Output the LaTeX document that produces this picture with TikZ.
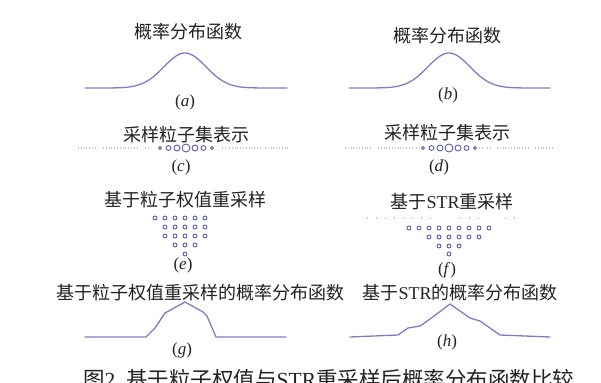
\documentclass[tikz,border=0pt]{standalone}
\usepackage{fontspec}
\setmainfont{Liberation Serif}
\newfontfamily\cjk{Noto Sans CJK SC}
\definecolor{curve}{HTML}{7A7EC8}
\definecolor{ptc}{HTML}{5B5FB5}
\definecolor{txt}{HTML}{222222}
\definecolor{dotg}{HTML}{C4C4CC}
\begin{document}
\begin{tikzpicture}[x=1pt,y=-1pt,
  title/.style={font=\fontsize{18}{20}\selectfont, text=txt, inner sep=0},
  sublabel/.style={font=\fontsize{17}{19}\selectfont, text=txt, inner sep=0},
  capt/.style={font=\fontsize{21.5}{24}\selectfont, text=txt, inner sep=0},
  pdf/.style={draw=curve, line width=1.3pt, line join=round, line cap=round},
  ptcl/.style={draw=ptc, line width=0.9pt},
  dots/.style={draw=dotg, line width=1.2pt, dash pattern=on 1pt off 1.8pt},
  sparse/.style={draw=dotg, line width=1.2pt, dash pattern=on 1.2pt off 7.8pt}]
\useasboundingbox[fill=white] (0,0) rectangle (601,382);

% (a)
\node[title] (ta) at (188,32) {\cjk 概率分布函数};
\draw[pdf] plot[domain=85:287,samples=80,smooth] (\x,{88-35*exp(-((\x-185)/21)^2/2)});
\node[sublabel] (la) at (185,102) {(\textit{a})};

% (b)
\node[title] (tb) at (447,36) {\cjk 概率分布函数};
\draw[pdf] plot[domain=349:550,samples=80,smooth] (\x,{88-35*exp(-((\x-449)/21)^2/2)});
\node[sublabel] (lb) at (448,95) {(\textit{b})};

% (c)
\node[title] (tc) at (186,135) {\cjk 采样粒子集表示};
\foreach \a/\b in {78/97,103/138,145/149,222/226,229/260,265/290}
  \draw[dots] (\a,148) -- (\b,148);
\foreach \dx/\r in {-26/1.6,-17.5/2.4,-9/3.0,0/4.0,9/3.0,17.5/2.4,26/1.6}
  \draw[ptcl] (186+\dx,148) circle (\r);
\node[sublabel] (lc) at (181,167) {(\textit{c})};

% (d)
\node[title] (td) at (447,133) {\cjk 采样粒子集表示};
\foreach \a/\b in {345/373,378/413,416/419,479/482,487/490,497/530,535/553}
  \draw[dots] (\a,148) -- (\b,148);
\foreach \dx/\r in {-26/1.6,-17.5/2.4,-9/3.0,0/4.0,9/3.0,17.5/2.4,26/1.6}
  \draw[ptcl] (449+\dx,148) circle (\r);
\node[sublabel] (ld) at (439,167) {(\textit{d})};

% (e)
\node[title] (te) at (185,200) {\cjk 基于粒子权值重采样};
\foreach \x in {155,165,...,205} \draw[ptcl] (\x,218) circle (2);
\foreach \x in {165,175,...,205} \draw[ptcl] (\x,227) circle (2);
\foreach \x in {165,175,...,205} \draw[ptcl] (\x,236) circle (2);
\foreach \x in {175,185,195} \draw[ptcl] (\x,245) circle (2);
\draw[ptcl] (185,254) circle (2);
\node[sublabel] (le) at (183,265) {(\textit{e})};

% (f)
\node[title] (tf) at (452,202) {{\cjk 基于}STR{\cjk 重采样}};
\draw[sparse] (367,218) -- (432,218);
\draw[sparse] (460,218) -- (481,218);
\draw[sparse] (505,218) -- (523,218);
\foreach \x in {409,419,...,489} \draw[ptcl] (\x,228) circle (2);
\foreach \x in {429,439,...,479} \draw[ptcl] (\x,237) circle (2);
\foreach \x in {439,449,459} \draw[ptcl] (\x,246) circle (2);
\draw[ptcl] (449,254) circle (2);
\node[sublabel] (lf) at (447,270) {(\textit{f})};

% (g)
\node[title] (tg) at (200,293) {\cjk 基于粒子权值重采样的概率分布函数};
\draw[pdf] (85,337) -- (146,337) -- (155,328) -- (165,313) -- (185,302)
  -- (203,312) -- (207,316) -- (216,337) -- (286,337);
\node[sublabel] (lg) at (182,350) {(\textit{g})};

% (h)
\node[title] (th) at (460,293) {{\cjk 基于}STR{\cjk 的概率分布函数}};
\draw[pdf] (350,337) -- (398,335) -- (408,328) -- (420,326) -- (430,319)
  -- (450,304) -- (470,318) -- (480,321) -- (500,335) -- (550,337);
\node[sublabel] (lh) at (447,342) {(\textit{h})};

% caption (cut off at the lower edge, as in the reference)
\node[capt, anchor=base west] (cap) at (83,387)
  {{\cjk 图}2\enspace{\cjk 基于粒子权值与}STR{\cjk 重采样后概率分布函数比较}};
\end{tikzpicture}
\end{document}
